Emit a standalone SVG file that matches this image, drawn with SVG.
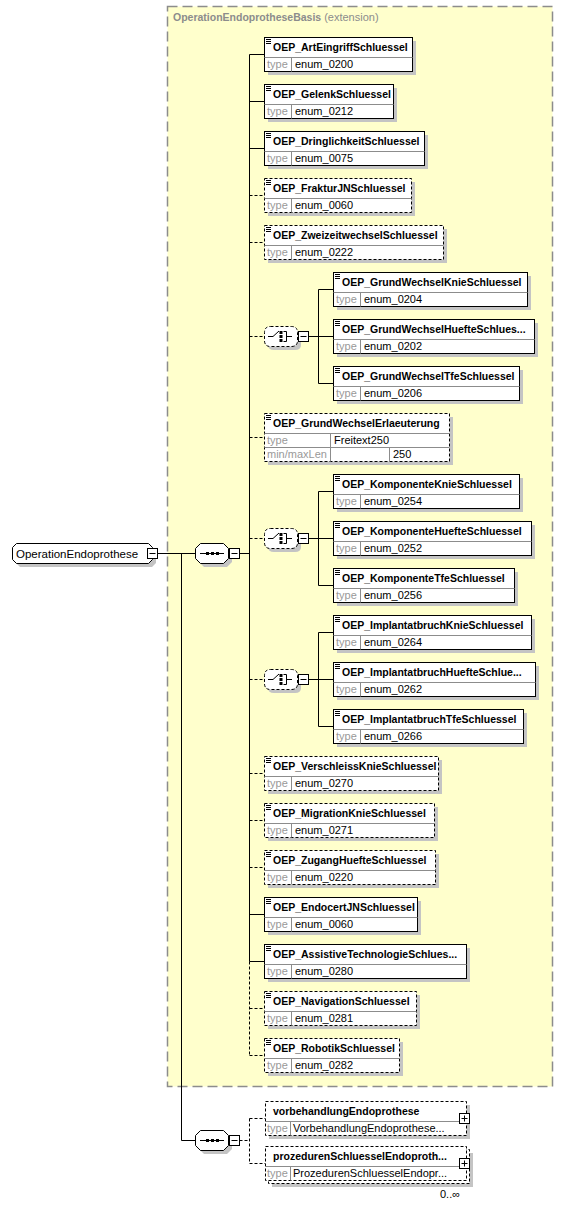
<svg xmlns="http://www.w3.org/2000/svg" width="563" height="1206" viewBox="0 0 563 1206">
<style>
.ext{fill:#ffffcc;stroke:#8c8c8c;stroke-width:1.5;stroke-dasharray:10,5}
.et{font:bold 10.5px "Liberation Sans",Arial,sans-serif;fill:#8c8c8c}
.en{font-weight:normal;font-size:11px}
.sh{fill:#c4c4c4}
.bx{fill:#fff;stroke:#000;stroke-width:1}
.op{stroke-dasharray:3,2}
.dv{stroke:#8c8c8c;stroke-width:1;fill:none}
.ic{stroke:#000;stroke-width:1;fill:none}
.lb{font:bold 10.5px "Liberation Sans",Arial,sans-serif;fill:#000}
.tl{font:11px "Liberation Sans",Arial,sans-serif;fill:#999}
.tv{font:11px "Liberation Sans",Arial,sans-serif;fill:#000}
.rt{font:11.5px "Liberation Sans",Arial,sans-serif;fill:#000}
.ln{stroke:#000;stroke-width:1;fill:none}
.dl{stroke-dasharray:3,2}
.dot{fill:#000}
</style>
<defs>
<g id="minus"><rect class="bx" x="0.5" y="0.5" width="10" height="10"/><path class="ln" d="M2.5,5.5 H8.5"/></g>
<g id="plus"><rect class="bx" x="0.5" y="0.5" width="10" height="10"/><path class="ln" d="M2.5,5.5 H8.5 M5.5,2.5 V8.5"/></g>
<g id="icon"><path class="ic" d="M2,2.5 H7 M2,4.5 H7 M2,6.5 H7"/></g>
<g id="seq">
<path class="sh" d="M9,4 H32 L37,9 V19 L32,24 H9 L4,19 V9 Z"/>
<path class="bx" d="M5.5,0.5 H28.5 L33.5,5.5 V15.5 L28.5,20.5 H5.5 L0.5,15.5 V5.5 Z"/>
<path class="ln" d="M5,10.5 H29"/>
<rect class="dot" x="11" y="9" width="3" height="3"/><rect class="dot" x="16" y="9" width="3" height="3"/><rect class="dot" x="21" y="9" width="3" height="3"/>
<use href="#minus" x="34" y="5"/>
</g>
<g id="choice">
<path class="sh" d="M10,4 H31 Q37,4 37,10 V19 Q37,24 31,24 H10 Q4,24 4,19 V10 Q4,4 10,4 Z"/>
<path class="bx op" d="M6.5,0.5 H27.5 Q33.5,0.5 33.5,6.5 V14.5 Q33.5,20.5 27.5,20.5 H6.5 Q0.5,20.5 0.5,14.5 V6.5 Q0.5,0.5 6.5,0.5 Z"/>
<path class="ln" d="M4,10.5 H9 L15,5"/>
<rect class="dot" x="15.5" y="5" width="3" height="3"/><rect class="dot" x="15.5" y="9" width="3" height="3"/><rect class="dot" x="15.5" y="13" width="3" height="3"/>
<path class="ln" d="M19.5,5.5 H22.5 V15.5 H19.5 M22.5,10.5 H28"/>
<use href="#minus" x="34" y="5"/>
</g>
</defs>

<rect class="ext" x="167.5" y="6.5" width="385" height="1080"/>
<text class="et" x="173" y="21">OperationEndoprotheseBasis <tspan class="en">(extension)</tspan></text>

<g id="connectors">
<path class="ln" d="M157.5,553.5 H195.5 M181.5,553.5 V1140.5 H195.5 M239.5,553.5 H249.5 M249.5,54.5 V961.5"/>
<path class="ln dl" d="M249.5,961.5 V1055.5"/>
<path class="ln" d="M249.5,54.5 H264.5 M249.5,101.5 H264.5 M249.5,148.5 H264.5 M249.5,914.5 H264.5 M249.5,961.5 H264.5"/>
<path class="ln dl" d="M249.5,195.5 H264.5 M249.5,242.5 H264.5 M249.5,336.5 H264.5 M249.5,437.5 H264.5 M249.5,538.5 H264.5 M249.5,679.5 H264.5 M249.5,773.5 H264.5 M249.5,820.5 H264.5 M249.5,867.5 H264.5 M249.5,1008.5 H264.5 M249.5,1055.5 H264.5"/>
<path class="ln" d="M308.5,336.5 H318.5 M318.5,289.5 V383.5 M318.5,289.5 H333.5 M318.5,336.5 H333.5 M318.5,383.5 H333.5"/>
<path class="ln" d="M308.5,538.5 H318.5 M318.5,491.5 V585.5 M318.5,491.5 H333.5 M318.5,538.5 H333.5 M318.5,585.5 H333.5"/>
<path class="ln" d="M308.5,679.5 H318.5 M318.5,632.5 V726.5 M318.5,632.5 H333.5 M318.5,679.5 H333.5 M318.5,726.5 H333.5"/>
<path class="ln dl" d="M239.5,1140.5 H249.5 M249.5,1118.5 V1163.5 M249.5,1118.5 H265.5 M249.5,1163.5 H265.5"/>
</g>

<g id="OperationEndoprothese" transform="translate(12,543)">
<path class="sh" d="M8,4 H140 L144,8 V20 L140,24 H8 L4,20 V8 Z"/>
<path class="bx" d="M4.5,0.5 H136.5 L140.5,4.5 V16.5 L136.5,20.5 H4.5 L0.5,16.5 V4.5 Z"/>
<text class="rt" x="4" y="14.5">OperationEndoprothese</text>
<use href="#minus" x="135" y="5"/>
</g>

<g id="sequence1" transform="translate(195,543)"><use href="#seq"/></g>
<g id="sequence2" transform="translate(195,1130)"><use href="#seq"/></g>
<g id="choice1" transform="translate(264,326)"><use href="#choice"/></g>
<g id="choice2" transform="translate(264,528)"><use href="#choice"/></g>
<g id="choice3" transform="translate(264,669)"><use href="#choice"/></g>

<g id="OEP_ArtEingriffSchluessel" transform="translate(264,37)">
<rect class="sh" x="4" y="4" width="148" height="34"/><rect class="bx" x="0.5" y="0.5" width="148" height="34"/>
<path class="dv" d="M0.5,20.5 H148.5 M27.5,20.5 V34.5"/><use href="#icon"/>
<text class="lb" x="9" y="14">OEP_ArtEingriffSchluessel</text><text class="tl" x="3" y="30.5">type</text><text class="tv" x="31" y="30.5">enum_0200</text>
</g>
<g id="OEP_GelenkSchluessel" transform="translate(264,84)">
<rect class="sh" x="4" y="4" width="129" height="34"/><rect class="bx" x="0.5" y="0.5" width="129" height="34"/>
<path class="dv" d="M0.5,20.5 H129.5 M27.5,20.5 V34.5"/><use href="#icon"/>
<text class="lb" x="9" y="14">OEP_GelenkSchluessel</text><text class="tl" x="3" y="30.5">type</text><text class="tv" x="31" y="30.5">enum_0212</text>
</g>
<g id="OEP_DringlichkeitSchluessel" transform="translate(264,131)">
<rect class="sh" x="4" y="4" width="160" height="34"/><rect class="bx" x="0.5" y="0.5" width="160" height="34"/>
<path class="dv" d="M0.5,20.5 H160.5 M27.5,20.5 V34.5"/><use href="#icon"/>
<text class="lb" x="9" y="14">OEP_DringlichkeitSchluessel</text><text class="tl" x="3" y="30.5">type</text><text class="tv" x="31" y="30.5">enum_0075</text>
</g>
<g id="OEP_FrakturJNSchluessel" transform="translate(264,178)">
<rect class="sh" x="4" y="4" width="147" height="34"/><rect class="bx op" x="0.5" y="0.5" width="147" height="34"/>
<path class="dv" d="M0.5,20.5 H147.5 M27.5,20.5 V34.5"/><use href="#icon"/>
<text class="lb" x="9" y="14">OEP_FrakturJNSchluessel</text><text class="tl" x="3" y="30.5">type</text><text class="tv" x="31" y="30.5">enum_0060</text>
</g>
<g id="OEP_ZweizeitwechselSchluessel" transform="translate(264,225)">
<rect class="sh" x="4" y="4" width="179" height="34"/><rect class="bx op" x="0.5" y="0.5" width="179" height="34"/>
<path class="dv" d="M0.5,20.5 H179.5 M27.5,20.5 V34.5"/><use href="#icon"/>
<text class="lb" x="9" y="14">OEP_ZweizeitwechselSchluessel</text><text class="tl" x="3" y="30.5">type</text><text class="tv" x="31" y="30.5">enum_0222</text>
</g>

<g id="OEP_GrundWechselKnieSchluessel" transform="translate(333,272)">
<rect class="sh" x="4" y="4" width="194" height="34"/><rect class="bx" x="0.5" y="0.5" width="194" height="34"/>
<path class="dv" d="M0.5,20.5 H194.5 M27.5,20.5 V34.5"/><use href="#icon"/>
<text class="lb" x="9" y="14">OEP_GrundWechselKnieSchluessel</text><text class="tl" x="3" y="30.5">type</text><text class="tv" x="31" y="30.5">enum_0204</text>
</g>
<g id="OEP_GrundWechselHuefteSchluessel" transform="translate(333,319)">
<rect class="sh" x="4" y="4" width="201" height="34"/><rect class="bx" x="0.5" y="0.5" width="201" height="34"/>
<path class="dv" d="M0.5,20.5 H201.5 M27.5,20.5 V34.5"/><use href="#icon"/>
<text class="lb" x="9" y="14">OEP_GrundWechselHuefteSchlues...</text><text class="tl" x="3" y="30.5">type</text><text class="tv" x="31" y="30.5">enum_0202</text>
</g>
<g id="OEP_GrundWechselTfeSchluessel" transform="translate(333,366)">
<rect class="sh" x="4" y="4" width="186" height="34"/><rect class="bx" x="0.5" y="0.5" width="186" height="34"/>
<path class="dv" d="M0.5,20.5 H186.5 M27.5,20.5 V34.5"/><use href="#icon"/>
<text class="lb" x="9" y="14">OEP_GrundWechselTfeSchluessel</text><text class="tl" x="3" y="30.5">type</text><text class="tv" x="31" y="30.5">enum_0206</text>
</g>

<g id="OEP_GrundWechselErlaeuterung" transform="translate(264,413)">
<rect class="sh" x="4" y="4" width="185" height="48"/><rect class="bx op" x="0.5" y="0.5" width="185" height="48"/>
<path class="dv" d="M0.5,20.5 H185.5 M0.5,34.5 H185.5 M66.5,20.5 V48.5 M125.5,34.5 V48.5"/><use href="#icon"/>
<text class="lb" x="9" y="14">OEP_GrundWechselErlaeuterung</text>
<text class="tl" x="3" y="30.5">type</text><text class="tv" x="70" y="30.5">Freitext250</text>
<text class="tl" x="3" y="44.5">min/maxLen</text><text class="tv" x="129" y="44.5">250</text>
</g>

<g id="OEP_KomponenteKnieSchluessel" transform="translate(333,474)">
<rect class="sh" x="4" y="4" width="186" height="34"/><rect class="bx" x="0.5" y="0.5" width="186" height="34"/>
<path class="dv" d="M0.5,20.5 H186.5 M27.5,20.5 V34.5"/><use href="#icon"/>
<text class="lb" x="9" y="14">OEP_KomponenteKnieSchluessel</text><text class="tl" x="3" y="30.5">type</text><text class="tv" x="31" y="30.5">enum_0254</text>
</g>
<g id="OEP_KomponenteHuefteSchluessel" transform="translate(333,521)">
<rect class="sh" x="4" y="4" width="198" height="34"/><rect class="bx" x="0.5" y="0.5" width="198" height="34"/>
<path class="dv" d="M0.5,20.5 H198.5 M27.5,20.5 V34.5"/><use href="#icon"/>
<text class="lb" x="9" y="14">OEP_KomponenteHuefteSchluessel</text><text class="tl" x="3" y="30.5">type</text><text class="tv" x="31" y="30.5">enum_0252</text>
</g>
<g id="OEP_KomponenteTfeSchluessel" transform="translate(333,568)">
<rect class="sh" x="4" y="4" width="181" height="34"/><rect class="bx" x="0.5" y="0.5" width="181" height="34"/>
<path class="dv" d="M0.5,20.5 H181.5 M27.5,20.5 V34.5"/><use href="#icon"/>
<text class="lb" x="9" y="14">OEP_KomponenteTfeSchluessel</text><text class="tl" x="3" y="30.5">type</text><text class="tv" x="31" y="30.5">enum_0256</text>
</g>

<g id="OEP_ImplantatbruchKnieSchluessel" transform="translate(333,615)">
<rect class="sh" x="4" y="4" width="198" height="34"/><rect class="bx" x="0.5" y="0.5" width="198" height="34"/>
<path class="dv" d="M0.5,20.5 H198.5 M27.5,20.5 V34.5"/><use href="#icon"/>
<text class="lb" x="9" y="14">OEP_ImplantatbruchKnieSchluessel</text><text class="tl" x="3" y="30.5">type</text><text class="tv" x="31" y="30.5">enum_0264</text>
</g>
<g id="OEP_ImplantatbruchHuefteSchluessel" transform="translate(333,662)">
<rect class="sh" x="4" y="4" width="202" height="34"/><rect class="bx" x="0.5" y="0.5" width="202" height="34"/>
<path class="dv" d="M0.5,20.5 H202.5 M27.5,20.5 V34.5"/><use href="#icon"/>
<text class="lb" x="9" y="14">OEP_ImplantatbruchHuefteSchlue...</text><text class="tl" x="3" y="30.5">type</text><text class="tv" x="31" y="30.5">enum_0262</text>
</g>
<g id="OEP_ImplantatbruchTfeSchluessel" transform="translate(333,709)">
<rect class="sh" x="4" y="4" width="190" height="34"/><rect class="bx" x="0.5" y="0.5" width="190" height="34"/>
<path class="dv" d="M0.5,20.5 H190.5 M27.5,20.5 V34.5"/><use href="#icon"/>
<text class="lb" x="9" y="14">OEP_ImplantatbruchTfeSchluessel</text><text class="tl" x="3" y="30.5">type</text><text class="tv" x="31" y="30.5">enum_0266</text>
</g>

<g id="OEP_VerschleissKnieSchluessel" transform="translate(264,756)">
<rect class="sh" x="4" y="4" width="174" height="34"/><rect class="bx op" x="0.5" y="0.5" width="174" height="34"/>
<path class="dv" d="M0.5,20.5 H174.5 M27.5,20.5 V34.5"/><use href="#icon"/>
<text class="lb" x="9" y="14">OEP_VerschleissKnieSchluessel</text><text class="tl" x="3" y="30.5">type</text><text class="tv" x="31" y="30.5">enum_0270</text>
</g>
<g id="OEP_MigrationKnieSchluessel" transform="translate(264,803)">
<rect class="sh" x="4" y="4" width="170" height="34"/><rect class="bx op" x="0.5" y="0.5" width="170" height="34"/>
<path class="dv" d="M0.5,20.5 H170.5 M27.5,20.5 V34.5"/><use href="#icon"/>
<text class="lb" x="9" y="14">OEP_MigrationKnieSchluessel</text><text class="tl" x="3" y="30.5">type</text><text class="tv" x="31" y="30.5">enum_0271</text>
</g>
<g id="OEP_ZugangHuefteSchluessel" transform="translate(264,850)">
<rect class="sh" x="4" y="4" width="171" height="34"/><rect class="bx op" x="0.5" y="0.5" width="171" height="34"/>
<path class="dv" d="M0.5,20.5 H171.5 M27.5,20.5 V34.5"/><use href="#icon"/>
<text class="lb" x="9" y="14">OEP_ZugangHuefteSchluessel</text><text class="tl" x="3" y="30.5">type</text><text class="tv" x="31" y="30.5">enum_0220</text>
</g>
<g id="OEP_EndocertJNSchluessel" transform="translate(264,897)">
<rect class="sh" x="4" y="4" width="153" height="34"/><rect class="bx" x="0.5" y="0.5" width="153" height="34"/>
<path class="dv" d="M0.5,20.5 H153.5 M27.5,20.5 V34.5"/><use href="#icon"/>
<text class="lb" x="9" y="14">OEP_EndocertJNSchluessel</text><text class="tl" x="3" y="30.5">type</text><text class="tv" x="31" y="30.5">enum_0060</text>
</g>
<g id="OEP_AssistiveTechnologieSchluessel" transform="translate(264,944)">
<rect class="sh" x="4" y="4" width="202" height="34"/><rect class="bx" x="0.5" y="0.5" width="202" height="34"/>
<path class="dv" d="M0.5,20.5 H202.5 M27.5,20.5 V34.5"/><use href="#icon"/>
<text class="lb" x="9" y="14">OEP_AssistiveTechnologieSchlues...</text><text class="tl" x="3" y="30.5">type</text><text class="tv" x="31" y="30.5">enum_0280</text>
</g>
<g id="OEP_NavigationSchluessel" transform="translate(264,991)">
<rect class="sh" x="4" y="4" width="152" height="34"/><rect class="bx op" x="0.5" y="0.5" width="152" height="34"/>
<path class="dv" d="M0.5,20.5 H152.5 M27.5,20.5 V34.5"/><use href="#icon"/>
<text class="lb" x="9" y="14">OEP_NavigationSchluessel</text><text class="tl" x="3" y="30.5">type</text><text class="tv" x="31" y="30.5">enum_0281</text>
</g>
<g id="OEP_RobotikSchluessel" transform="translate(264,1038)">
<rect class="sh" x="4" y="4" width="135" height="34"/><rect class="bx op" x="0.5" y="0.5" width="135" height="34"/>
<path class="dv" d="M0.5,20.5 H135.5 M27.5,20.5 V34.5"/><use href="#icon"/>
<text class="lb" x="9" y="14">OEP_RobotikSchluessel</text><text class="tl" x="3" y="30.5">type</text><text class="tv" x="31" y="30.5">enum_0282</text>
</g>

<g id="vorbehandlungEndoprothese" transform="translate(265,1101)">
<rect class="sh" x="4" y="4" width="201" height="34"/><rect class="bx op" x="0.5" y="0.5" width="201" height="34"/>
<path class="dv" d="M0.5,20.5 H201.5 M25.5,20.5 V34.5"/>
<text class="lb" x="8" y="14">vorbehandlungEndoprothese</text><text class="tl" x="2" y="30.5">type</text><text class="tv" x="28" y="30.5">VorbehandlungEndoprothese...</text>
<use href="#plus" x="194" y="12"/>
</g>
<g id="prozedurenSchluesselEndoprothese" transform="translate(265,1146)">
<rect class="sh" x="7" y="7" width="201" height="34"/><rect class="bx op" x="3.5" y="3.5" width="201" height="34"/><rect class="bx op" x="0.5" y="0.5" width="201" height="34"/>
<path class="dv" d="M0.5,20.5 H201.5 M25.5,20.5 V34.5"/>
<text class="lb" x="8" y="14">prozedurenSchluesselEndoproth...</text><text class="tl" x="2" y="30.5">type</text><text class="tv" x="28" y="30.5">ProzedurenSchluesselEndopr...</text>
<use href="#plus" x="194" y="12"/>
<text class="tv" x="175" y="52">0..∞</text>
</g>
</svg>
